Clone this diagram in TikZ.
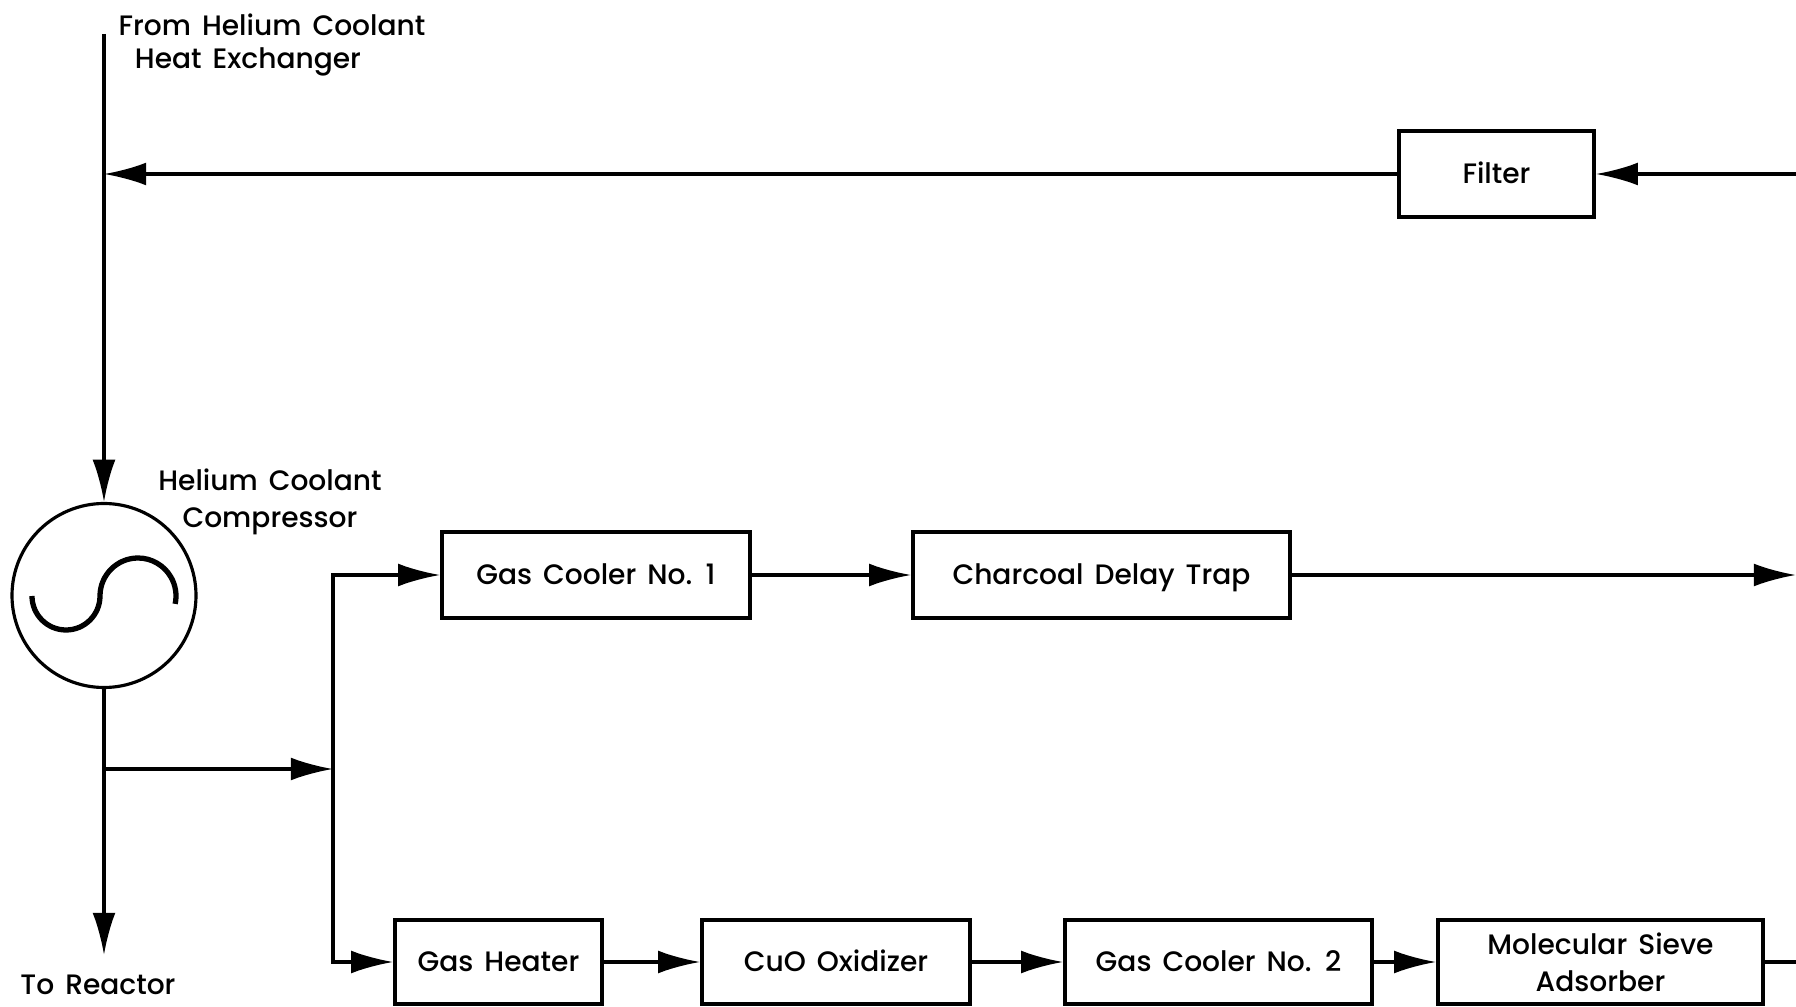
\documentclass[tikz,border=0pt]{standalone}
\usepackage{fontspec}
\setmainfont{Poppins Medium}[WordSpace=1.5]
\usetikzlibrary{arrows.meta}
\begin{document}
\begin{tikzpicture}[x=0.1mm,y=0.1mm,line width=0.9pt,
  font=\fontsize{8}{10.5}\selectfont,
  box/.style={draw,line width=1pt,inner sep=0pt,align=center,minimum height=8.6mm},
  one/.style={text height=5.6pt,text depth=0pt},
  lowbox/.style={box,minimum height=8.4mm},
  arr/.style={-{Latex[length=12pt,width=6.5pt]}},
  lbl/.style={inner sep=0pt,align=center}]
\useasboundingbox (0,0) rectangle (1796,-1007);
% boxes
\node[box,one,minimum width=19.5mm] (filter) at (1496.5,-174) {Filter};
\node[box,one,minimum width=30.8mm] (gc1) at (596,-575) {Gas Cooler No. 1};
\node[box,one,minimum width=37.7mm] (cdt) at (1101.5,-575) {Charcoal Delay Trap};
\node[lowbox,one,minimum width=20.7mm] (gh) at (498.5,-962) {Gas Heater};
\node[lowbox,one,minimum width=26.8mm] (cuo) at (836,-962) {CuO Oxidizer};
\node[lowbox,one,minimum width=30.7mm] (gc2) at (1218.5,-962) {Gas Cooler No. 2};
\node[lowbox,minimum width=32.5mm] (ms) at (1600.5,-962) {Molecular Sieve\\Adsorber};
% compressor
\node[draw,circle,minimum size=18.4mm,inner sep=0pt,line width=0.9pt] (comp) at (104,-595.5) {};
\draw[line width=1.5pt] (32,-596) arc[start angle=180,end angle=360,radius=3.4mm]
  arc[start angle=180,end angle=-12,radius=3.8mm];
% labels
\node[lbl] (from1) at (272,-25) {From Helium Coolant};
\node[lbl] (from2) at (248,-62) {Heat Exchanger};
\node[lbl] (complbl) at (270,-502) {Helium Coolant\\Compressor};
\node[lbl] (toreac) at (98,-985) {To Reactor};
% coordinates
\coordinate (top) at (104,-34);
\coordinate (tj) at (104,-174);
\coordinate (rtop) at (1796,-174);
\coordinate (rmid) at (1796,-575);
\coordinate (rbot) at (1796,-962);
\coordinate (bj) at (104,-769);
\coordinate (sj) at (333,-769);
\coordinate (out) at (104,-955);
% connectors
\draw[arr] (top) -- (comp.north);
\draw[arr] (filter.west) -- (tj);
\draw[arr] (rtop) -- (filter.east);
\draw[arr] (comp.south) -- (out);
\draw[arr] (bj) -- (sj);
\draw[arr] (sj) |- (gc1.west);
\draw[arr] (sj) |- (gh.west);
\draw[arr] (gc1) -- (cdt);
\draw[arr] (cdt) -- (rmid);
\draw[arr] (gh) -- (cuo);
\draw[arr] (cuo) -- (gc2);
\draw[arr] (gc2) -- (ms);
\draw (ms) -- (rbot);
\end{tikzpicture}
\end{document}
